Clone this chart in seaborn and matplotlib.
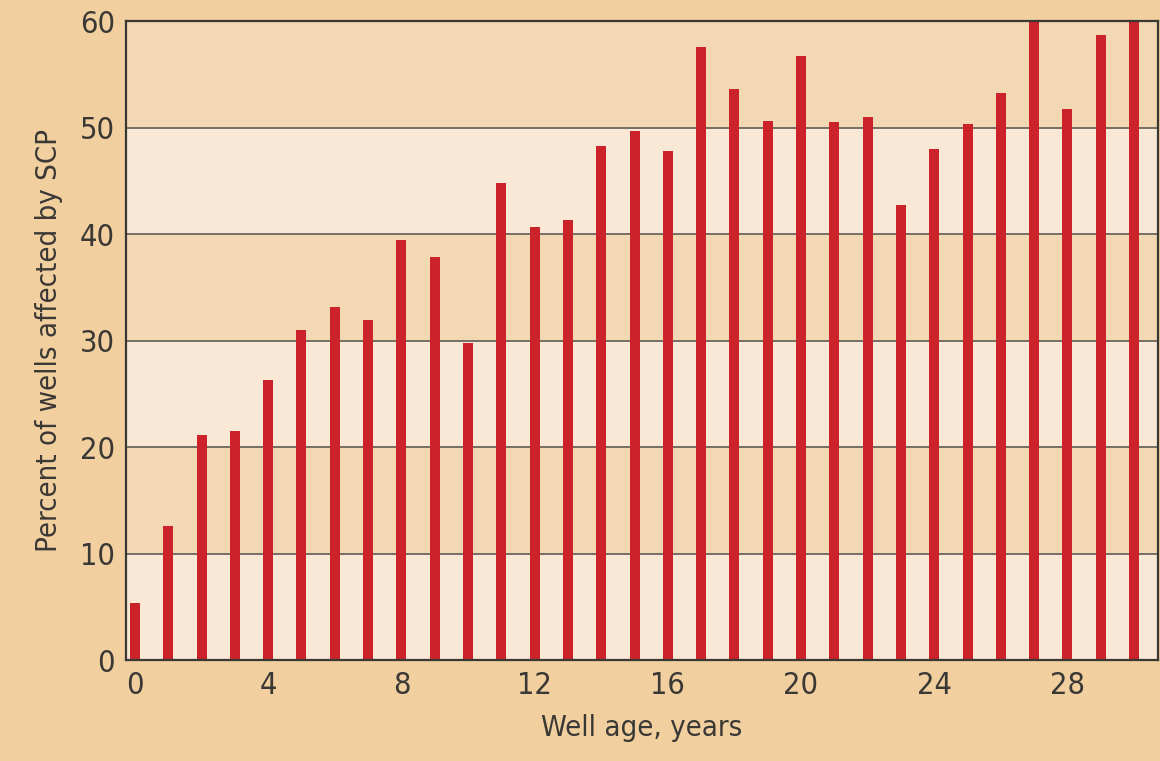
import seaborn as sns
import matplotlib.pyplot as plt
import pandas as pd

# percent of wells affected by sustained casing pressure, by well age
ages = list(range(31))
percent = [5.4, 12.6, 21.1, 21.5, 26.3, 31.0, 33.1, 31.9, 39.4, 37.8,
           29.8, 44.8, 40.7, 41.3, 48.3, 49.7, 47.8, 57.6, 53.6, 50.6,
           56.7, 50.5, 51.0, 42.7, 48.0, 50.3, 53.2, 60.0, 51.7, 58.7, 60.0]
xticks = [0, 4, 8, 12, 16, 20, 24, 28]
yticks = [0, 10, 20, 30, 40, 50, 60]

df = pd.DataFrame({"age": ages, "percent": percent})

sns.set_style("white")
plt.rcParams["font.family"] = ["DejaVu Sans"]
plt.rcParams["font.stretch"] = "condensed"

outer = "#f1cf9f"
dark_band = "#f3d9b3"
light_band = "#f9e8d6"
txt = "#3a3835"

fig = plt.figure(figsize=(11.6, 7.61), dpi=100, facecolor=outer)
ax = fig.add_axes([0.1086, 0.1327, 0.8897, 0.8397])

# alternating horizontal bands
for i in range(len(yticks) - 1):
    ax.axhspan(yticks[i], yticks[i + 1], color=light_band if i % 2 == 0 else dark_band,
               zorder=0, lw=0)
for y in yticks[1:-1]:
    ax.axhline(y, color="#5f5b55", lw=1.2, zorder=1)

sns.barplot(data=df, x="age", y="percent", color="#cc2229", width=0.3,
            saturation=1, ax=ax, zorder=2, order=ages, linewidth=0)

ax.set_xlim(-0.27, 30.72)
ax.set_ylim(0, 60)
ax.set_xticks(xticks)
ax.set_xticklabels([str(t) for t in xticks])
ax.set_yticks(yticks)
ax.tick_params(axis="both", length=0, labelsize=22, colors=txt, pad=8)
ax.set_xlabel("Well age, years", fontsize=21, color=txt, labelpad=10)
ax.set_ylabel("Percent of wells affected by SCP", fontsize=21, color=txt, labelpad=12)

for s in ax.spines.values():
    s.set_visible(True)
    s.set_color(txt)
    s.set_linewidth(1.6)

fig.savefig("out.png", dpi=100, facecolor=outer)
